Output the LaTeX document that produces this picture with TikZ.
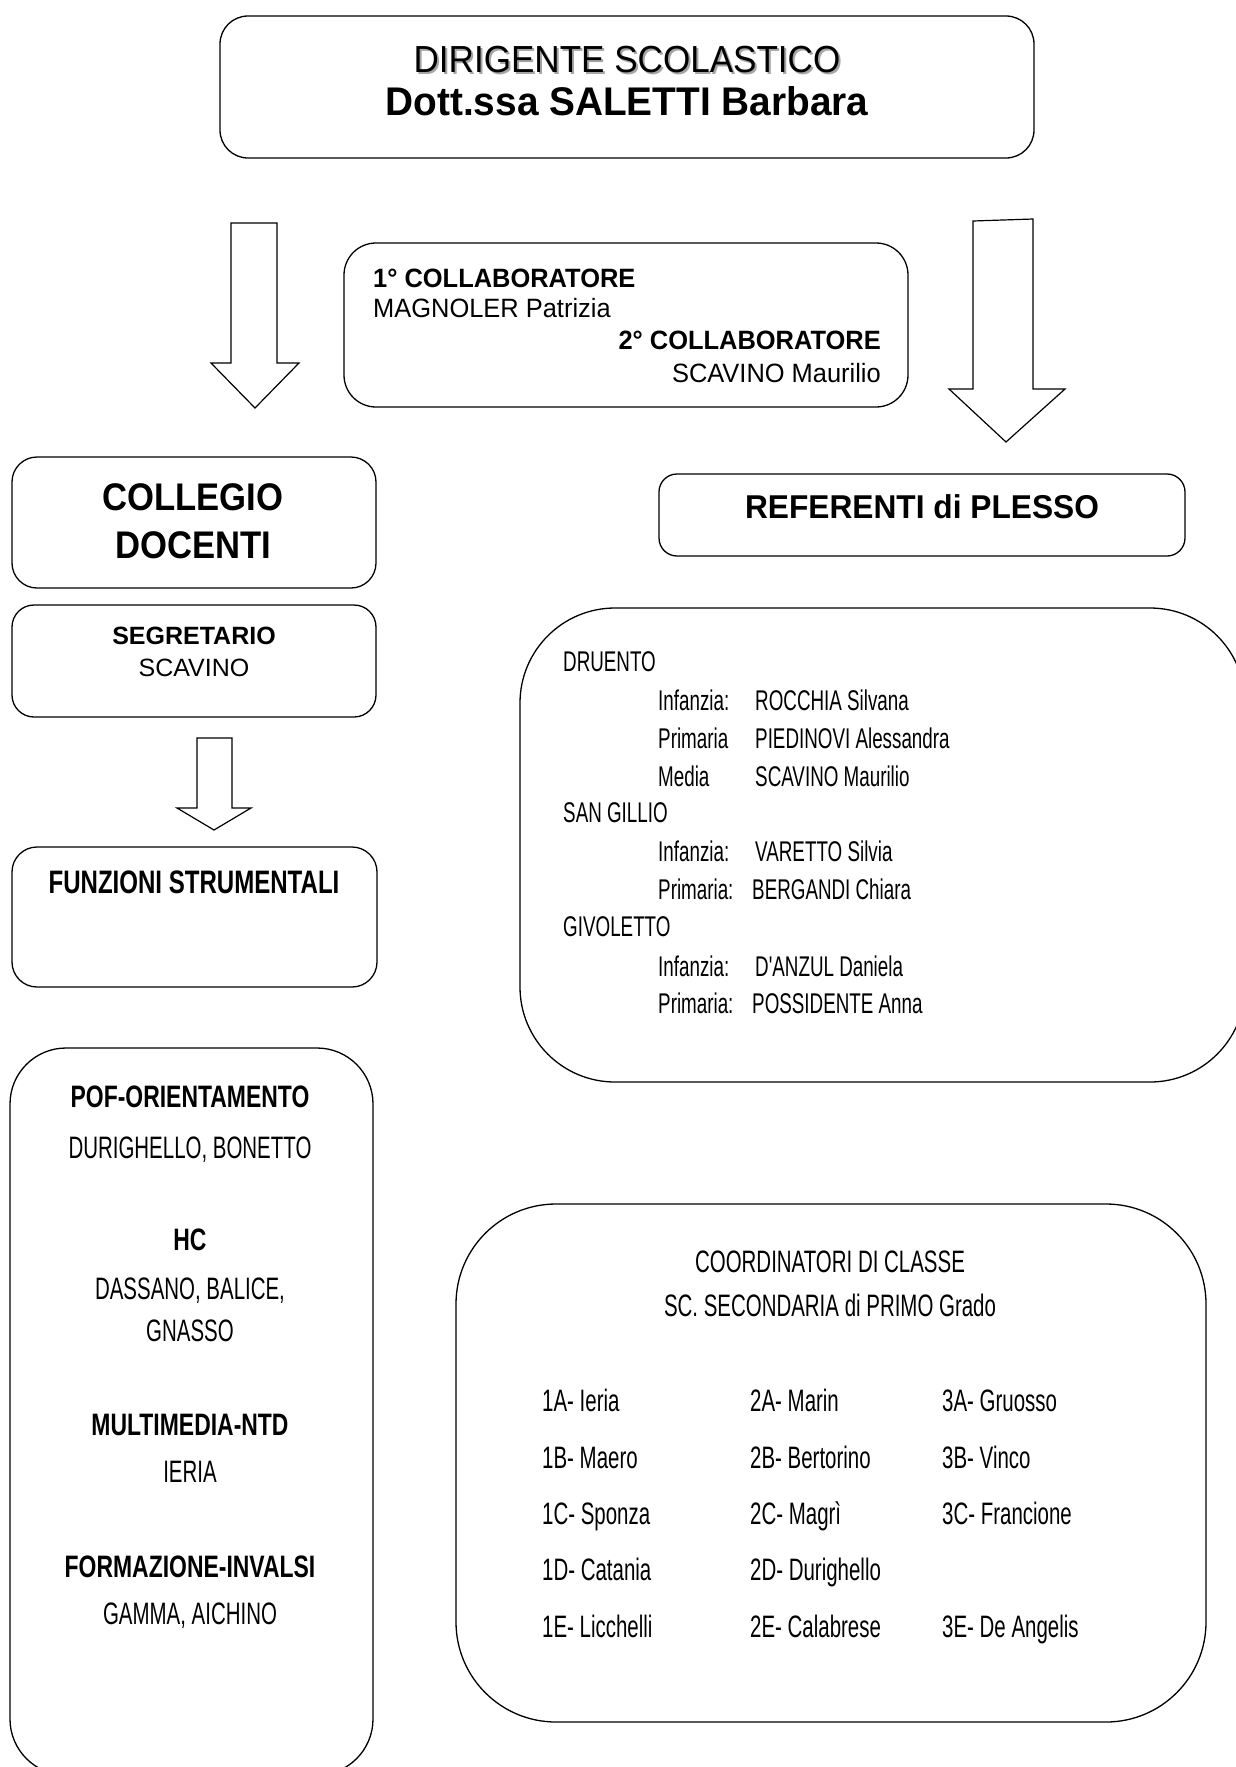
\documentclass[tikz,border=0pt]{standalone}
\usepackage{fontspec}
\setmainfont{Liberation Sans}
\newfontfamily\euro[FakeStretch=0.93]{Liberation Sans}
\newfontfamily\eurob[FakeStretch=0.97]{Liberation Sans}
\newfontfamily\narrowish[FakeStretch=0.96]{Liberation Sans}
\newfontfamily\boldnarrow[FakeStretch=0.9]{Liberation Sans}
\newfontfamily\agency[FakeStretch=0.66]{Liberation Sans}
\newfontfamily\agencyb[FakeStretch=0.74]{Liberation Sans}
\newcommand{\fs}[1]{\fontsize{#1}{#1}\selectfont}
\tikzset{
  box/.style={draw, line width=1.3pt, rounded corners=#1, inner sep=0pt},
  box/.default=25pt,
  blockarrow/.style={draw, line width=1.2pt, line join=miter, fill=white},
  txt/.style={inner sep=0pt, text=black},
}
\begin{document}
\begin{tikzpicture}[x=1pt,y=-1pt]
\useasboundingbox (0,0) rectangle (1236,1767);
\fill[white] (0,0) rectangle (1236,1767);

% boxes
\node[box=28pt, minimum width=814pt, minimum height=142pt] (dir) at (627,87) {};
\node[box=32pt, minimum width=564pt, minimum height=164pt] (collab) at (626,325) {};
\node[box=25pt, minimum width=364pt, minimum height=131pt] (collegio) at (194,522.5) {};
\node[box=22pt, minimum width=364pt, minimum height=112pt] (segr) at (194,661) {};
\node[box=25pt, minimum width=365pt, minimum height=140pt] (funz) at (194.5,917) {};
\node[box=56pt, minimum width=363pt, minimum height=727pt] (pof) at (191.5,1411.5) {};
\node[box=18pt, minimum width=526pt, minimum height=82pt] (ref) at (922,515) {};
\node[box=95pt, minimum width=725pt, minimum height=474pt] (plesso) at (882.5,845) {};
\node[box=100pt, minimum width=750pt, minimum height=518pt] (coord) at (831,1463) {};

% block arrows
\draw[blockarrow] (231,223) -- (277,223) -- (277,363) -- (299,363) -- (255,408)
  -- (211,363) -- (231,363) -- cycle;
\draw[blockarrow] (973,221) -- (1033,219) -- (1033,389) -- (1065,389) -- (1006,442)
  -- (949,389) -- (973,389) -- cycle;
\draw[blockarrow] (197,738) -- (232,738) -- (232,808) -- (251,808) -- (214,830)
  -- (177,808) -- (197,808) -- cycle;

% Dirigente
\node[txt, anchor=base, text=black!35, font=\euro\fs{37.7}] (dirS) at (629,74) {DIRIGENTE SCOLASTICO};
\node[txt, anchor=base, font=\euro\fs{37.7}] (dirT) at (627,72) {DIRIGENTE SCOLASTICO};
\node[txt, anchor=base, font=\eurob\bfseries\fs{40}] (dirN) at (627,115) {Dott.ssa SALETTI Barbara};

% Collaboratori
\node[txt, anchor=base west, font=\narrowish\bfseries\fs{26.5}] (c1) at (373,287) {1° COLLABORATORE};
\node[txt, anchor=base west, font=\narrowish\fs{26.5}] (c1n) at (373,317) {MAGNOLER Patrizia};
\node[txt, anchor=base east, font=\narrowish\bfseries\fs{26.5}] (c2) at (881,349) {2° COLLABORATORE};
\node[txt, anchor=base east, font=\narrowish\fs{26.5}] (c2n) at (881,382) {SCAVINO Maurilio};

% Collegio
\node[txt, anchor=base, font=\boldnarrow\bfseries\fs{38.5}] (colA) at (193,510) {COLLEGIO};
\node[txt, anchor=base, font=\boldnarrow\bfseries\fs{38.5}] (colB) at (193,558) {DOCENTI};

% Segretario
\node[txt, anchor=base, font=\bfseries\fs{25}] (segA) at (194,644) {SEGRETARIO};
\node[txt, anchor=base, font=\fs{25}] (segB) at (194,676) {SCAVINO};

% Funzioni
\node[txt, anchor=base, font=\agencyb\bfseries\fs{32.5}] (funT) at (194,893) {FUNZIONI STRUMENTALI};

% POF box texts
\node[txt, anchor=base, font=\agencyb\bfseries\fs{31}] (p1) at (190,1107) {POF-ORIENTAMENTO};
\node[txt, anchor=base, font=\agency\fs{31}] (p1n) at (190,1158) {DURIGHELLO, BONETTO};
\node[txt, anchor=base, font=\agencyb\bfseries\fs{31}] (p2) at (190,1250) {HC};
\node[txt, anchor=base, font=\agency\fs{31}] (p2n) at (190,1299) {DASSANO, BALICE,};
\node[txt, anchor=base, font=\agency\fs{31}] (p2m) at (190,1341) {GNASSO};
\node[txt, anchor=base, font=\agencyb\bfseries\fs{31}] (p3) at (190,1435) {MULTIMEDIA-NTD};
\node[txt, anchor=base, font=\agency\fs{31}] (p3n) at (190,1482) {IERIA};
\node[txt, anchor=base, font=\agencyb\bfseries\fs{31}] (p4) at (190,1577) {FORMAZIONE-INVALSI};
\node[txt, anchor=base, font=\agency\fs{31}] (p4n) at (190,1624) {GAMMA, AICHINO};

% Referenti
\node[txt, anchor=base, font=\narrowish\bfseries\fs{33}] (refT) at (922,518) {REFERENTI di PLESSO};

% Plessi
\begin{scope}[every node/.style={txt, anchor=base west, font=\agency\fs{28.5}}]
\node (d0) at (563,671) {DRUENTO};
\node (d1) at (658,710) {Infanzia:};  \node (d1n) at (755,710) {ROCCHIA Silvana};
\node (d2) at (658,748) {Primaria};   \node (d2n) at (755,748) {PIEDINOVI Alessandra};
\node (d3) at (658,786) {Media};      \node (d3n) at (755,786) {SCAVINO Maurilio};
\node (s0) at (563,822) {SAN GILLIO};
\node (s1) at (658,861) {Infanzia:};  \node (s1n) at (755,861) {VARETTO Silvia};
\node (s2) at (658,899) {Primaria:};  \node (s2n) at (752,899) {BERGANDI Chiara};
\node (g0) at (563,936) {GIVOLETTO};
\node (g1) at (658,976) {Infanzia:};  \node (g1n) at (755,976) {D'ANZUL Daniela};
\node (g2) at (658,1013) {Primaria:}; \node (g2n) at (752,1013) {POSSIDENTE Anna};
\end{scope}

% Coordinatori
\node[txt, anchor=base, font=\agency\fs{31}] (coT1) at (830,1272) {COORDINATORI DI CLASSE};
\node[txt, anchor=base, font=\agency\fs{31}] (coT2) at (830,1316) {SC. SECONDARIA di PRIMO Grado};
\begin{scope}[every node/.style={txt, anchor=base west, font=\agency\fs{31}}]
\node (k1a) at (542,1411) {1A- Ieria};      \node (k2a) at (750,1411) {2A- Marin};      \node (k3a) at (942,1411) {3A- Gruosso};
\node (k1b) at (542,1468) {1B- Maero};      \node (k2b) at (750,1468) {2B- Bertorino};  \node (k3b) at (942,1468) {3B- Vinco};
\node (k1c) at (542,1524) {1C- Sponza};     \node (k2c) at (750,1524) {2C- Magrì};      \node (k3c) at (942,1524) {3C- Francione};
\node (k1d) at (542,1580) {1D- Catania};    \node (k2d) at (750,1580) {2D- Durighello};
\node (k1e) at (542,1637) {1E- Licchelli};  \node (k2e) at (750,1637) {2E- Calabrese};  \node (k3e) at (942,1637) {3E- De Angelis};
\end{scope}
\end{tikzpicture}
\end{document}
